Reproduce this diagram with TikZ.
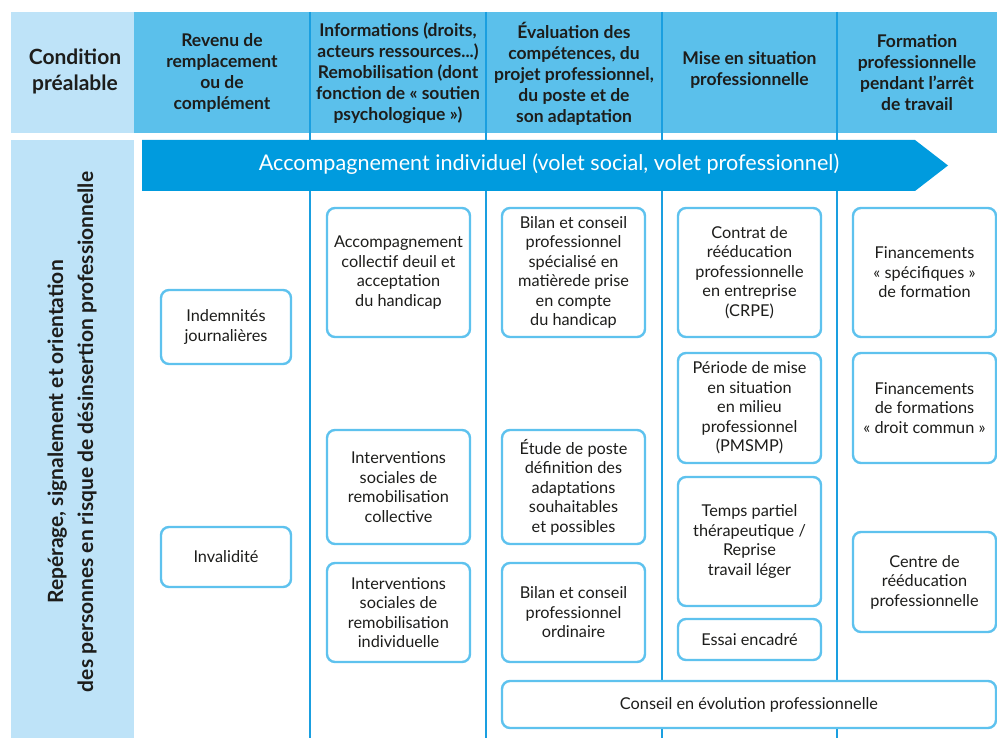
\documentclass[tikz,border=0pt]{standalone}
\usepackage{fontspec}
\setmainfont{Lato}
\newfontfamily\hfont{Lato}
\definecolor{hdark}{HTML}{5BC0EB}
\definecolor{hlight}{HTML}{BEE3F8}
\definecolor{arrowc}{HTML}{009BDE}
\definecolor{boxc}{HTML}{5EC2EE}
\definecolor{linec}{HTML}{1A9FE0}
\definecolor{txtc}{HTML}{1D1D1B}
\tikzset{
  hdr/.style={font=\hfont\bfseries\fontsize{17.5}{21}\selectfont, align=center, text=txtc, inner sep=0pt},
  bx/.style={draw=boxc, line width=2.4pt, rounded corners=8pt, fill=white, align=center,
    font=\fontsize{16.3}{19.5}\selectfont, text=txtc, inner sep=1pt},
  divline/.style={draw=linec, line width=1.1pt},
}
\begin{document}
\begin{tikzpicture}[x=1pt,y=-1pt]
\useasboundingbox (0,0) rectangle (997,738);
% header row
\fill[hlight] (11,12) rectangle (134,133);
\fill[hdark] (134,12) rectangle (997,133);
% left body column
\fill[hlight] (11,140) rectangle (134,738);
% dividers
\coordinate (d1t) at (310,12); \coordinate (d1b) at (310,738);
\coordinate (d2t) at (486,12); \coordinate (d2b) at (486,738);
\coordinate (d3t) at (662,12); \coordinate (d3b) at (662,738);
\coordinate (d4t) at (837,12); \coordinate (d4b) at (837,738);
\draw[divline] (d1t) -- (d1b);
\draw[divline] (d2t) -- (d2b);
\draw[divline] (d3t) -- (d3b);
\draw[divline] (d4t) -- (d4b);
% header texts
\node[hdr, font=\hfont\bfseries\fontsize{21}{26}\selectfont] (h0) at (75,71) {Condition\\préalable};
\node[hdr] (h1) at (222,73) {Revenu de\\remplacement\\ou de\\complément};
\node[hdr] (h2) at (398,73) {Informations (droits,\\acteurs ressources...)\\Remobilisation (dont\\fonction de « soutien\\psychologique »)};
\node[hdr] (h3) at (574,74) {Évaluation des\\compétences, du\\projet professionnel,\\du poste et de\\son adaptation};
\node[hdr] (h4) at (749.5,70) {Mise en situation\\professionnelle};
\node[hdr] (h5) at (917,73) {Formation\\professionnelle\\pendant l’arrêt\\de travail};
% arrow
\fill[arrowc] (142,140) -- (915,140) -- (948,165.5) -- (915,191) -- (142,191) -- cycle;
\node[text=white, font=\fontsize{21.6}{26}\selectfont, inner sep=0pt] (arr) at (549,164) {Accompagnement individuel (volet social, volet professionnel)};
% vertical side text
\node[rotate=90, align=center, text=txtc, font=\hfont\bfseries\fontsize{21}{30}\selectfont, inner sep=0pt] (side) at (72,432)
  {Repérage, signalement et orientation\\des personnes en risque de désinsertion professionnelle};
% boxes
\node[bx, minimum width=130pt, minimum height=74pt] (ij) at (226,327) {Indemnités\\journalières};
\node[bx, minimum width=130pt, minimum height=60pt] (inv) at (226,557) {Invalidité};
\node[bx, minimum width=143pt, minimum height=129pt] (acc) at (398.5,272.5) {Accompagnement\\collectif deuil et\\acceptation\\du handicap};
\node[bx, minimum width=143pt, minimum height=114pt] (isc) at (398.5,487) {Interventions\\sociales de\\remobilisation\\collective};
\node[bx, minimum width=143pt, minimum height=99pt] (isi) at (398.5,612.5) {Interventions\\sociales de\\remobilisation\\individuelle};
\node[bx, minimum width=143pt, minimum height=129pt] (bcs) at (573.5,272.5) {Bilan et conseil\\professionnel\\spécialisé en\\matièrede prise\\en compte\\du handicap};
\node[bx, minimum width=143pt, minimum height=114pt] (etu) at (573.5,487) {Étude de poste\\définition des\\adaptations\\souhaitables\\et possibles};
\node[bx, minimum width=143pt, minimum height=99pt] (bco) at (573.5,612.5) {Bilan et conseil\\professionnel\\ordinaire};
\node[bx, minimum width=143pt, minimum height=129pt] (crpe) at (749.5,272.5) {Contrat de\\rééducation\\professionnelle\\en entreprise\\(CRPE)};
\node[bx, minimum width=143pt, minimum height=110pt] (pms) at (749.5,408) {Période de mise\\en situation\\en milieu\\professionnel\\(PMSMP)};
\node[bx, minimum width=143pt, minimum height=129pt] (tp) at (749.5,541.5) {Temps partiel\\thérapeutique /\\Reprise\\travail léger};
\node[bx, minimum width=143pt, minimum height=41pt] (ess) at (749.5,639.5) {Essai encadré};
\node[bx, minimum width=143pt, minimum height=129pt] (fsp) at (924.5,272.5) {Financements\\« spécifiques »\\de formation};
\node[bx, minimum width=143pt, minimum height=110pt] (fdc) at (924.5,408) {Financements\\de formations\\« droit commun »};
\node[bx, minimum width=143pt, minimum height=100pt] (crp) at (924.5,582) {Centre de\\rééducation\\professionnelle};
\node[bx, minimum width=494pt, minimum height=47pt] (cep) at (749,704.5) {Conseil en évolution professionnelle};
\end{tikzpicture}
\end{document}
